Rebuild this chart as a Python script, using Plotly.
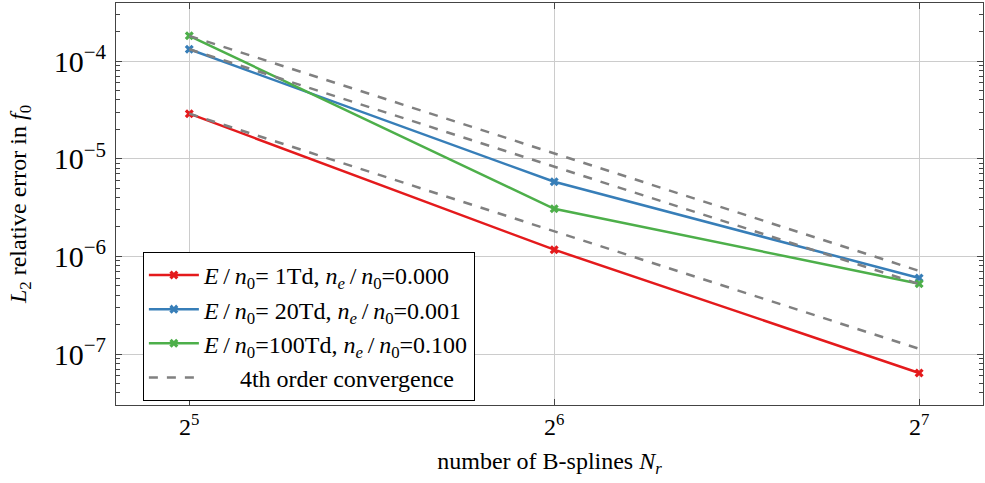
import plotly.graph_objects as go

# Data
n_splines = [32, 64, 128]
err_1td = [2.89e-5, 1.17e-6, 6.4e-8]
err_20td = [1.32e-4, 5.8e-6, 6.0e-7]
err_100td = [1.81e-4, 3.07e-6, 5.25e-7]

# 4th order reference lines (endpoints at 2^5 and 2^7)
ref_x = [32, 128]
ref_1td = [2.89e-5, 1.13e-7]
ref_20td = [1.32e-4, 5.2e-7]
ref_100td = [1.81e-4, 7.1e-7]

S = "\u2009"
labels = [
    f"<i>E</i>{S}/{S}<i>n</i><sub>0</sub>= 1Td, <i>n<sub>e</sub></i>{S}/{S}<i>n</i><sub>0</sub>=0.000",
    f"<i>E</i>{S}/{S}<i>n</i><sub>0</sub>= 20Td, <i>n<sub>e</sub></i>{S}/{S}<i>n</i><sub>0</sub>=0.001",
    f"<i>E</i>{S}/{S}<i>n</i><sub>0</sub>=100Td, <i>n<sub>e</sub></i>{S}/{S}<i>n</i><sub>0</sub>=0.100",
]
ref_label = "      4th order convergence"
x_ticktext = ["2<sup>5</sup>", "2<sup>6</sup>", "2<sup>7</sup>"]

colors = ["#e41a1c", "#377eb8", "#4daf4a"]
FONT = "Liberation Serif, Times New Roman, serif"

fig = go.Figure()
for ys, lab, c in zip([err_1td, err_20td, err_100td], labels, colors):
    fig.add_trace(go.Scatter(
        x=n_splines, y=ys, mode="lines+markers", name=lab,
        line=dict(color=c, width=2.5),
        marker=dict(symbol="x", size=8, color=c, line=dict(width=0)),
    ))
for i, ys in enumerate([ref_1td, ref_20td, ref_100td]):
    fig.add_trace(go.Scatter(
        x=ref_x, y=ys, mode="lines", name=ref_label, showlegend=(i == 0),
        line=dict(color="#808080", width=2.5, dash="dash"),
    ))

fig.update_layout(
    width=985, height=483,
    margin=dict(l=116, r=2, t=3, b=78, autoexpand=False),
    plot_bgcolor="white", paper_bgcolor="white",
    font=dict(family=FONT, size=24, color="black"),
    showlegend=True,
    legend=dict(
        x=0.031, y=0.381, xanchor="left", yanchor="top",
        bordercolor="black", borderwidth=1, bgcolor="white",
        font=dict(family=FONT, size=24, color="black"),
        tracegroupgap=0, itemwidth=50,
    ),
)
fig.update_xaxes(
    type="log", range=[1.4447, 2.1599], automargin=False,
    tickmode="array", tickvals=n_splines, ticktext=x_ticktext,
    ticks="inside", ticklen=6, tickcolor="#444",
    showgrid=True, gridcolor="#cccccc", gridwidth=1,
    showline=True, linecolor="#444", linewidth=1.2, mirror="allticks",
    zeroline=False,
    title=dict(text="number of B-splines <i>N<sub>r</sub></i>", standoff=13,
               font=dict(family=FONT, size=24)),
    tickfont=dict(family=FONT, size=24),
)
fig.update_yaxes(
    type="log", range=[-7.522, -3.406], automargin=False,
    dtick=1, exponentformat="power",
    ticks="inside", ticklen=6, tickcolor="#444", ticklabelstandoff=4,
    minor=dict(dtick="D1", ticks="inside", ticklen=4, tickcolor="#444", showgrid=False),
    showgrid=True, gridcolor="#cccccc", gridwidth=1,
    showline=True, linecolor="#444", linewidth=1.2, mirror="allticks",
    zeroline=False,
    title=dict(text="<i>L</i><sub>2</sub> relative error in <i>f</i><sub>0</sub>",
               standoff=20, font=dict(family=FONT, size=24)),
    tickfont=dict(family=FONT, size=24),
)

fig.write_html("out.html", config={"displayModeBar": False},
               post_script="document.body.style.margin='0';")
